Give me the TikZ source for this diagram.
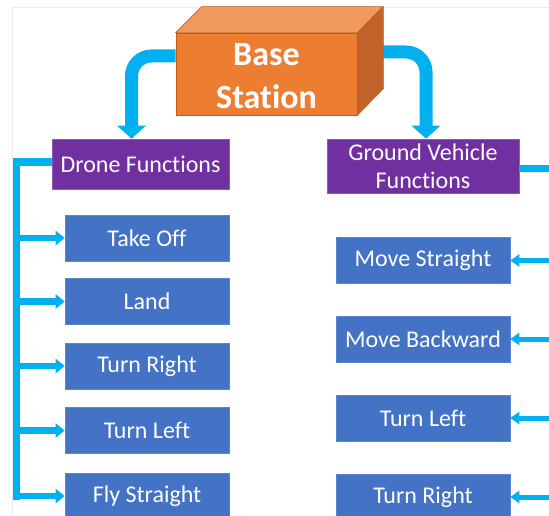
\documentclass[tikz,border=0pt]{standalone}
\usepackage{fontspec}
\setmainfont{Carlito}[Ligatures={NoCommon,NoRare,NoContextual},Contextuals=NoAlternate]
\usetikzlibrary{arrows.meta,backgrounds}
\pgfdeclarelayer{paper}
\pgfsetlayers{paper,background,main}
\definecolor{cyanA}{HTML}{00B0F0}
\definecolor{orgFront}{HTML}{ED7D31}
\definecolor{orgTop}{HTML}{F19A5E}
\definecolor{orgSide}{HTML}{C1632A}
\definecolor{orgLine}{HTML}{C55A11}
\definecolor{purp}{HTML}{7030A0}
\definecolor{blueB}{HTML}{4472C4}
\definecolor{blueLine}{HTML}{5B86CF}
\tikzset{
  fnbox/.style={fill=purp, draw=purp!80!white, line width=0.6pt, text=white,
    font=\fontsize{24}{28}\selectfont, align=center, inner sep=0pt},
  opbox/.style={fill=blueB, draw=blueLine, line width=0.6pt, text=white,
    font=\fontsize{24}{28}\selectfont, inner sep=0pt},
  bigarrow/.style={draw=cyanA, line width=13pt, rounded corners=20pt,
    -{Triangle[width=28pt,length=13pt]}},
  trunk/.style={draw=cyanA, line width=7.5pt, line join=miter},
  leftarrow/.style={draw=cyanA, line width=6.5pt, -{Triangle[width=14pt,length=9pt]}},
  rightarrow/.style={draw=cyanA, line width=5pt, -{Triangle[width=12pt,length=9pt]}},
}
\begin{document}
\begin{tikzpicture}[x=1pt,y=-1pt]
\useasboundingbox (0,0) rectangle (549,516);
\clip (0,0) rectangle (549,516);
\begin{pgfonlayer}{paper}
  \fill[white] (0,0) rectangle (549,516);
  \draw[black!8, line width=0.8pt] (12,516) -- (12,7) -- (549,7);
\end{pgfonlayer}

% base station front face
\node[fill=orgFront, draw=orgLine, line width=0.6pt, minimum width=181pt, minimum height=82pt, inner sep=0pt] (front) at (266.5,74) {};
\fill[orgTop, draw=orgLine, line width=0.6pt] (front.north west) -- ++(26,-26) -- ++(181,0) -- (front.north east) -- cycle;
\fill[orgSide, draw=orgLine, line width=0.6pt] (front.north east) -- ++(26,-26) -- ++(0,82) -- (front.south east) -- cycle;
\node[text=white, font=\fontsize{34}{43}\selectfont\bfseries, align=center] (base) at ([yshift=-2pt]front.center) {Base\\Station};

% function boxes
\node[fnbox, minimum width=177pt, minimum height=50pt] (drone) at (140.5,164) {Drone Functions};
\node[fnbox, minimum width=192pt, minimum height=54pt] (gv) at (423,166) {Ground Vehicle\\Functions};

% drone operations
\node[opbox, minimum width=164pt, minimum height=46pt] (takeoff) at (147,238) {Take Off};
\node[opbox, minimum width=164pt, minimum height=46pt] (land) at (147,301.5) {Land};
\node[opbox, minimum width=164pt, minimum height=46pt] (dright) at (147,366) {Turn Right};
\node[opbox, minimum width=164pt, minimum height=46pt] (dleft) at (147,430.5) {Turn Left};
\node[opbox, minimum width=164pt, minimum height=46pt] (fly) at (147,496) {Fly Straight};

% ground vehicle operations
\node[opbox, minimum width=174pt, minimum height=46pt] (mstraight) at (423,260.5) {Move Straight};
\node[opbox, minimum width=174pt, minimum height=46pt] (mback) at (423,339) {Move Backward};
\node[opbox, minimum width=174pt, minimum height=46pt] (gleft) at (423,418) {Turn Left};
\node[opbox, minimum width=174pt, minimum height=46pt] (gright) at (423,497) {Turn Right};

\begin{scope}[on background layer]
  \draw[bigarrow] ([yshift=18pt]front.west) -| ([xshift=-9pt]drone.north);
  \draw[bigarrow] ([xshift=12pt,yshift=22pt]front.east) -| ([xshift=3pt]gv.north);
\end{scope}

% drone tree
\draw[trunk] ([yshift=2pt]drone.west) -- ++(-35,0) coordinate (lt) -- ([yshift=-4pt]lt |- fly.west);
\foreach \n in {takeoff,land,dright,dleft,fly}
  \draw[leftarrow] (lt |- \n.west) -- (\n.west);

% ground vehicle tree
\draw[trunk] ([yshift=-2.5pt]gv.east) -- ++(42,0) coordinate (rt) -- ([yshift=-4pt]rt |- gright.east);
\foreach \n in {mstraight,mback,gleft,gright}
  \draw[rightarrow] (rt |- \n.east) -- (\n.east);
\end{tikzpicture}
\end{document}
